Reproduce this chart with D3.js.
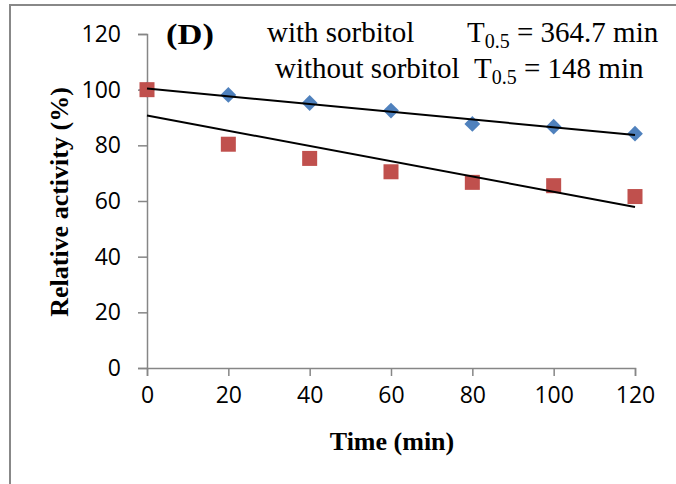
<!DOCTYPE html>
<html>
<head>
<meta charset="utf-8">
<script src="https://cdn.jsdelivr.net/npm/d3@7"></script>
<style>
  body { margin: 0; background: #fff; }
  svg { display: block; }
</style>
</head>
<body>
<div id="chart"></div>
<script>
// time points (min) and relative activity (%)
var times = [0, 20, 40, 60, 80, 100, 120];
var withSorbitol = [100, 98.1, 95.2, 92.5, 87.7, 86.7, 84.2];
var withoutSorbitol = [100, 80.4, 75.3, 70.5, 66.7, 65.5, 61.6];
var xTicks = [0, 20, 40, 60, 80, 100, 120];
var yTicks = [0, 20, 40, 60, 80, 100, 120];

var width = 676, height = 484;
var serif = "'Liberation Serif', 'Times New Roman', serif";
var sans = "'Open Sans', 'Noto Sans', sans-serif";

var svg = d3.select('#chart').append('svg')
  .attr('width', width)
  .attr('height', height);

// outer frame (runs off the right and bottom edges)
svg.append('rect')
  .attr('x', 10).attr('y', 5)
  .attr('width', 700).attr('height', 520)
  .attr('fill', 'none')
  .attr('stroke', '#888')
  .attr('stroke-width', 2);

var x = d3.scaleLinear().domain([0, 120]).range([147, 635]);
var y = d3.scaleLinear().domain([0, 120]).range([368, 34]);

var yAxis = svg.append('g')
  .attr('transform', 'translate(' + x(0) + ',0)')
  .call(d3.axisLeft(y).tickValues(yTicks).tickSize(9).tickPadding(17));

var xAxis = svg.append('g')
  .attr('transform', 'translate(0,' + y(0) + ')')
  .call(d3.axisBottom(x).tickValues(xTicks).tickSize(8).tickPadding(11));

[xAxis, yAxis].forEach(function (g) {
  g.selectAll('path, line').attr('stroke', '#868686').attr('stroke-width', 1.5);
  g.selectAll('text')
    .attr('fill', '#000')
    .style('font-family', sans)
    .style('font-size', '23px');
});

// axis titles
svg.append('text')
  .attr('x', 392).attr('y', 450)
  .attr('text-anchor', 'middle')
  .style('font-family', serif).style('font-size', '26px').style('font-weight', 'bold')
  .text('Time (min)');

svg.append('text')
  .attr('transform', 'translate(68,202) rotate(-90)')
  .attr('text-anchor', 'middle')
  .style('font-family', serif).style('font-size', '26px').style('font-weight', 'bold')
  .text('Relative activity (%)');

// least squares trend line
function fit(xs, ys) {
  var mx = d3.mean(xs), my = d3.mean(ys);
  var sxy = d3.sum(xs, function (v, i) { return (v - mx) * (ys[i] - my); });
  var sxx = d3.sum(xs, function (v) { return (v - mx) * (v - mx); });
  var b = sxy / sxx;
  return { a: my - b * mx, b: b };
}

var blue = '#4F81BD', red = '#C0504D';

// with sorbitol: diamonds
svg.append('g').selectAll('path')
  .data(times.map(function (t, i) { return [t, withSorbitol[i]]; }))
  .enter().append('path')
  .attr('d', d3.symbol().type(d3.symbolSquare).size(125))
  .attr('transform', function (d) { return 'translate(' + x(d[0]) + ',' + y(d[1]) + ') rotate(45)'; })
  .attr('fill', blue);

// without sorbitol: squares
svg.append('g').selectAll('rect')
  .data(times.map(function (t, i) { return [t, withoutSorbitol[i]]; }))
  .enter().append('rect')
  .attr('x', function (d) { return x(d[0]) - 7.5; })
  .attr('y', function (d) { return y(d[1]) - 7.5; })
  .attr('width', 15).attr('height', 15)
  .attr('fill', red);

[withSorbitol, withoutSorbitol].forEach(function (vals) {
  var f = fit(times, vals);
  svg.append('line')
    .attr('x1', x(0)).attr('y1', y(f.a))
    .attr('x2', x(120)).attr('y2', y(f.a + f.b * 120))
    .attr('stroke', '#000')
    .attr('stroke-width', 2);
});

// annotations
svg.append('text')
  .attr('transform', 'translate(166,44) scale(1.15,1)')
  .style('font-family', serif).style('font-size', '30px').style('font-weight', 'bold')
  .text('(D)');

function label(yb, name, nameX, tX, val) {
  var t = svg.append('text')
    .attr('y', yb)
    .style('font-family', serif).style('font-size', '29px');
  t.append('tspan').attr('x', nameX).text(name);
  t.append('tspan').attr('x', tX).text('T');
  t.append('tspan').attr('dy', 6).style('font-size', '20px').text('0.5');
  t.append('tspan').attr('dy', -6).text(' = ' + val + ' min');
}
label(42, 'with sorbitol', 267, 467, '364.7');
label(78, 'without sorbitol', 275, 474, '148');
</script>
</body>
</html>
